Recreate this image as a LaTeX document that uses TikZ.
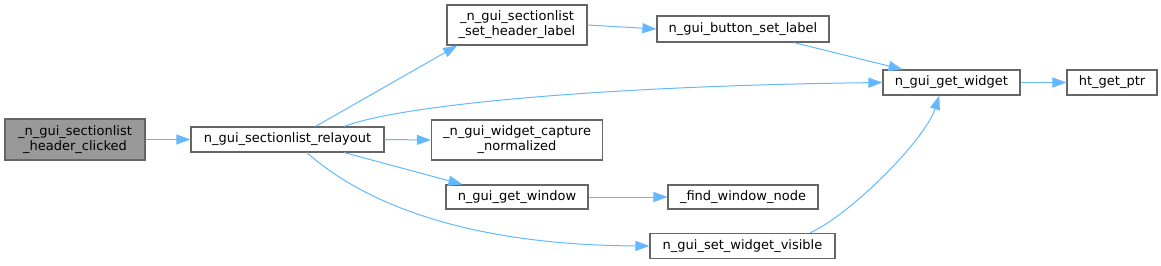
\documentclass[tikz,border=0pt]{standalone}
\usepackage{fontspec}
\setmainfont{DejaVu Sans}
\usetikzlibrary{arrows.meta}
\definecolor{edgeblue}{HTML}{63B8FF}
\definecolor{nodeborder}{HTML}{666666}
\definecolor{mainfill}{HTML}{999999}
\begin{document}
\begin{tikzpicture}[x=1pt,y=-1pt,
  fn/.style={draw=nodeborder, line width=1.2pt, fill=white, inner sep=0pt, align=center,
             font=\fontsize{13}{15}\selectfont},
  mainfn/.style={fn, fill=mainfill},
  call/.style={draw=edgeblue, line width=1pt, -{Triangle[length=14pt,width=10pt]}}
]
\useasboundingbox (0,0) rectangle (1161,265);

\node[mainfn, minimum width=140pt, minimum height=41pt] (n1) at (75,139.5) {\_n\_gui\_sectionlist\\\_header\_clicked};
\node[fn, minimum width=193pt, minimum height=25pt] (n2) at (287.5,139.5) {n\_gui\_sectionlist\_relayout};
\node[fn, minimum width=140pt, minimum height=40pt] (n3) at (517,25) {\_n\_gui\_sectionlist\\\_set\_header\_label};
\node[fn, minimum width=172pt, minimum height=26pt] (n4) at (743,29) {n\_gui\_button\_set\_label};
\node[fn, minimum width=137pt, minimum height=25pt] (n5) at (951.5,82.5) {n\_gui\_get\_widget};
\node[fn, minimum width=90pt, minimum height=25pt] (n6) at (1112,82.5) {ht\_get\_ptr};
\node[fn, minimum width=171pt, minimum height=40pt] (n7) at (517,140) {\_n\_gui\_widget\_capture\\\_normalized};
\node[fn, minimum width=142pt, minimum height=24pt] (n8) at (517,197) {n\_gui\_get\_window};
\node[fn, minimum width=150pt, minimum height=24pt] (n9) at (743,197) {\_find\_window\_node};
\node[fn, minimum width=185pt, minimum height=25pt] (n10) at (742.5,246) {n\_gui\_set\_widget\_visible};

\draw[call] (n1.east) -- (n2.west);
\draw[call] (n2.25) -- (n3.-161);
\draw[call] (n2.13.6) .. controls (400,105) and (600,86) .. (n5.west);
\draw[call] (n2.east) -- (n7.west);
\draw[call] (n2.-13) -- (n8.167);
\draw[call] (n2.-34) .. controls (360,200) and (460,245) .. (n10.west);
\draw[call] (n3.east) -- (n4.west);
\draw[call] (n4.-15) -- (n5.165);
\draw[call] (n8.east) -- (n9.west);
\draw[call] (n10.11) .. controls (850,215) and (925,140) .. (n5.-133);
\draw[call] (n5.east) -- (n6.west);
\end{tikzpicture}
\end{document}
